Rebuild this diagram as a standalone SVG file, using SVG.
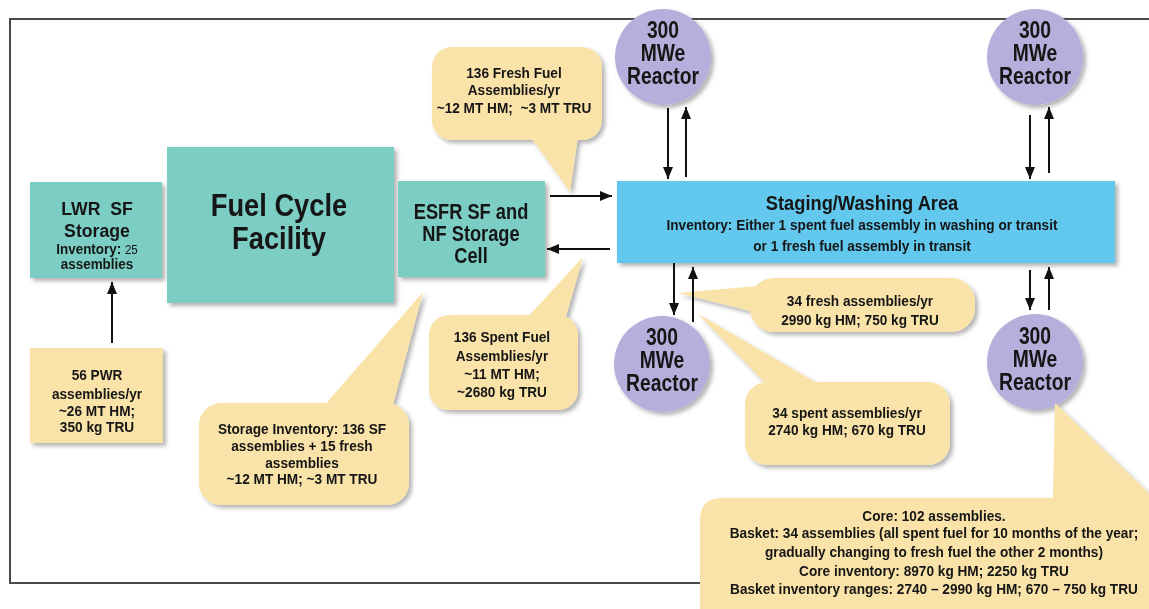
<svg xmlns="http://www.w3.org/2000/svg" width="1149" height="609" viewBox="0 0 1149 609">
<style>
  text { font-family: "Liberation Sans", Arial, sans-serif; font-weight: bold; fill: #151515; text-anchor: middle; transform-box: fill-box; transform-origin: center; }
  .teal { fill: #7ccdc4; }
  .blue { fill: #62c8ee; }
  .reac { fill: #b4afdb; }
  .call { fill: #f9e3a9; }
  .ln { stroke: #111; stroke-width: 2; fill: none; marker-end: url(#ah); }
  .reactxt { font-size: 23px; transform: scaleX(0.84); }
  .ct { font-size: 15px; transform: scaleX(0.91); }
  .lwr1 { font-size: 19px; transform: scaleX(0.93); }
  .lwr2 { font-size: 14px; transform: scaleX(0.96); }
  .fcf { font-size: 31px; transform: scaleX(0.88); }
  .esfr { font-size: 22px; transform: scaleX(0.83); }
  .st1 { font-size: 21px; transform: scaleX(0.87); }
  .st2 { font-size: 15px; transform: scaleX(0.91); }
</style>
<defs>
  <filter id="sh" x="-10%" y="-10%" width="130%" height="130%">
    <feDropShadow dx="3" dy="3" stdDeviation="2" flood-color="#000" flood-opacity="0.3"/>
  </filter>
  <marker id="ah" markerUnits="userSpaceOnUse" markerWidth="13" markerHeight="11" refX="12" refY="5" orient="auto">
    <path d="M0,0 L12,5 L0,10 Z" fill="#111"/>
  </marker>
</defs>
<rect x="0" y="0" width="1149" height="609" fill="#fff"/>
<!-- frame -->
<rect x="10" y="19" width="1200" height="564" fill="none" stroke="#4a4a4a" stroke-width="2"/>

<g id="lwr" filter="url(#sh)">
  <rect class="teal" x="30" y="182" width="132" height="96"/>
  <text class="lwr1" x="97" y="215" xml:space="preserve">LWR  SF</text>
  <text class="lwr1" x="97" y="237">Storage</text>
  <text class="lwr2" x="97" y="254">Inventory: <tspan font-weight="normal" font-size="12px">25</tspan></text>
  <text class="lwr2" x="97" y="269">assemblies</text>
</g>
<g id="fcf" filter="url(#sh)">
  <rect class="teal" x="167" y="147" width="227" height="156"/>
  <text class="fcf" x="279" y="216">Fuel Cycle</text>
  <text class="fcf" x="279" y="249">Facility</text>
</g>
<g id="esfr" filter="url(#sh)">
  <rect class="teal" x="398" y="181" width="147" height="96"/>
  <text class="esfr" x="471" y="219">ESFR SF and</text>
  <text class="esfr" x="471" y="241">NF Storage</text>
  <text class="esfr" x="471" y="263">Cell</text>
</g>
<g id="staging" filter="url(#sh)">
  <rect class="blue" x="617" y="181" width="498" height="82"/>
  <text class="st1" x="862" y="210">Staging/Washing Area</text>
  <text class="st2" x="862" y="230">Inventory: Either 1 spent fuel assembly in washing or transit</text>
  <text class="st2" x="862" y="251">or 1 fresh fuel assembly in transit</text>
</g>
<g id="reactor1" filter="url(#sh)">
  <circle class="reac" cx="663" cy="57" r="48"/>
  <text class="reactxt" x="663" y="38">300</text>
  <text class="reactxt" x="663" y="61">MWe</text>
  <text class="reactxt" x="663" y="84">Reactor</text>
</g>
<g id="reactor2" filter="url(#sh)">
  <circle class="reac" cx="1035" cy="57" r="48"/>
  <text class="reactxt" x="1035" y="38">300</text>
  <text class="reactxt" x="1035" y="61">MWe</text>
  <text class="reactxt" x="1035" y="84">Reactor</text>
</g>
<g id="reactor3" filter="url(#sh)">
  <circle class="reac" cx="662" cy="364" r="48"/>
  <text class="reactxt" x="662" y="345">300</text>
  <text class="reactxt" x="662" y="368">MWe</text>
  <text class="reactxt" x="662" y="391">Reactor</text>
</g>
<g id="reactor4" filter="url(#sh)">
  <circle class="reac" cx="1035" cy="362" r="48"/>
  <text class="reactxt" x="1035" y="344">300</text>
  <text class="reactxt" x="1035" y="367">MWe</text>
  <text class="reactxt" x="1035" y="390">Reactor</text>
</g>

<g id="pwr" filter="url(#sh)">
  <rect class="call" x="30" y="348" width="133" height="95"/>
  <text class="ct" x="97" y="380">56 PWR</text>
  <text class="ct" x="97" y="399">assemblies/yr</text>
  <text class="ct" x="97" y="416">~26 MT HM;</text>
  <text class="ct" x="97" y="432">350 kg TRU</text>
</g>
<g id="callout-fresh136" filter="url(#sh)">
  <rect class="call" x="432" y="47" width="170" height="93" rx="20"/>
  <polygon class="call" points="530,136 570,192 578,136"/>
  <text class="ct" x="514" y="78">136 Fresh Fuel</text>
  <text class="ct" x="514" y="95">Assemblies/yr</text>
  <text class="ct" x="514" y="113" xml:space="preserve">~12 MT HM;  ~3 MT TRU</text>
</g>
<g id="callout-spent136" filter="url(#sh)">
  <rect class="call" x="429" y="315" width="149" height="95" rx="20"/>
  <polygon class="call" points="525,320 583,257 565,320"/>
  <text class="ct" x="502" y="342">136 Spent Fuel</text>
  <text class="ct" x="502" y="361">Assemblies/yr</text>
  <text class="ct" x="502" y="379">~11 MT HM;</text>
  <text class="ct" x="502" y="397">~2680 kg TRU</text>
</g>
<g id="callout-storage" filter="url(#sh)">
  <rect class="call" x="199" y="403" width="210" height="102" rx="22"/>
  <polygon class="call" points="322,408 423,292 392,408"/>
  <text class="ct" x="302" y="434">Storage Inventory: 136 SF</text>
  <text class="ct" x="302" y="451">assemblies + 15 fresh</text>
  <text class="ct" x="302" y="468">assemblies</text>
  <text class="ct" x="302" y="484">~12 MT HM; ~3 MT TRU</text>
</g>
<g id="callout-fresh34" filter="url(#sh)">
  <rect class="call" x="750" y="278" width="225" height="54" rx="24"/>
  <polygon class="call" points="758,286 678,293 762,314"/>
  <text class="ct" x="860" y="306">34 fresh assemblies/yr</text>
  <text class="ct" x="860" y="325">2990 kg HM; 750 kg TRU</text>
</g>
<g id="callout-spent34" filter="url(#sh)">
  <rect class="call" x="745" y="382" width="205" height="83" rx="22"/>
  <polygon class="call" points="768,386 698,314 822,386"/>
  <text class="ct" x="847" y="418">34 spent assemblies/yr</text>
  <text class="ct" x="847" y="435">2740 kg HM; 670 kg TRU</text>
</g>
<g id="callout-core" filter="url(#sh)">
  <path class="call" d="M700,620 L700,520 Q700,498 722,498 L1053,498 L1055,403 L1200,542 L1200,620 Z"/>
  <text class="ct" x="934" y="521">Core: 102 assemblies.</text>
  <text class="ct" x="934" y="538">Basket: 34 assemblies (all spent fuel for 10 months of the year;</text>
  <text class="ct" x="934" y="557">gradually changing to fresh fuel the other 2 months)</text>
  <text class="ct" x="934" y="576">Core inventory: 8970 kg HM; 2250 kg TRU</text>
  <text class="ct" x="934" y="594">Basket inventory ranges: 2740 – 2990 kg HM; 670 – 750 kg TRU</text>
</g>

<g id="connectors">
  <line class="ln" x1="112" y1="343" x2="112" y2="282"/>
  <line class="ln" x1="550" y1="196" x2="612" y2="196"/>
  <line class="ln" x1="610" y1="249" x2="547" y2="249"/>
  <line class="ln" x1="668" y1="108" x2="668" y2="179"/>
  <line class="ln" x1="686" y1="177" x2="686" y2="107"/>
  <line class="ln" x1="1030" y1="115" x2="1030" y2="179"/>
  <line class="ln" x1="1049" y1="173" x2="1049" y2="107"/>
  <line class="ln" x1="674" y1="263" x2="674" y2="315"/>
  <line class="ln" x1="693" y1="322" x2="693" y2="267"/>
  <line class="ln" x1="1030" y1="270" x2="1030" y2="310"/>
  <line class="ln" x1="1049" y1="310" x2="1049" y2="267"/>
</g>
</svg>
